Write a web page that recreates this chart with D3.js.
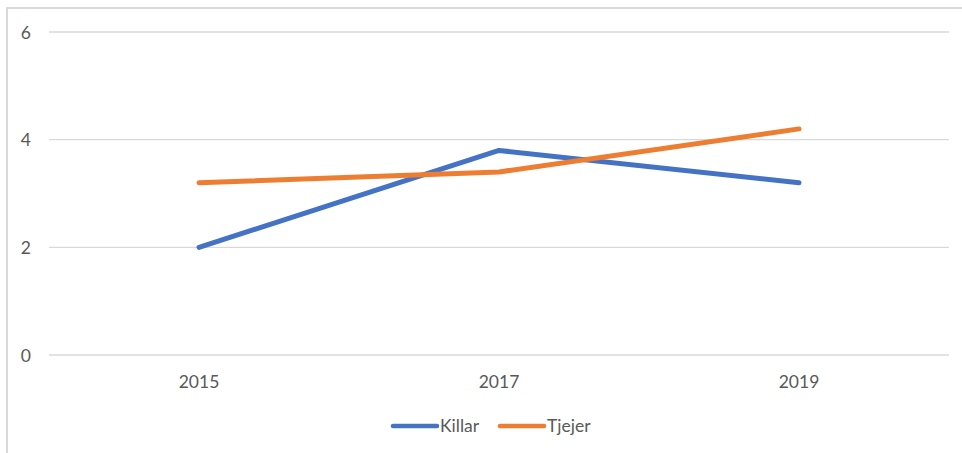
<!DOCTYPE html>
<html>
<head>
<meta charset="utf-8">
<script src="https://cdn.jsdelivr.net/npm/d3@7"></script>
<style>
  html, body { margin: 0; padding: 0; background: #fff; }
  svg { display: block; }
</style>
</head>
<body>
<svg id="chart" width="962" height="453"></svg>
<script>
// Survey years and the two series
const years = ["2015", "2017", "2019"];
const killar = [2.0, 3.8, 3.2];
const tjejer = [3.2, 3.4, 4.2];
const yTicks = [0, 2, 4, 6];
const seriesNames = ["Killar", "Tjejer"];
const seriesColors = ["#4472C4", "#ED7D31"];

const series = [
  { name: seriesNames[0], color: seriesColors[0], values: killar },
  { name: seriesNames[1], color: seriesColors[1], values: tjejer }
];

const svg = d3.select("#chart");
const W = 962, H = 453;
const font = "Lato, 'Open Sans', sans-serif";
const fontSize = 17.5;

// Chart-area frame (left and top edges visible)
svg.append("path")
  .attr("d", `M7,${H} V8 H${W}`)
  .attr("fill", "none")
  .attr("stroke", "#d9d9d9")
  .attr("stroke-width", 2);

const margin = { left: 49 };

const x = d3.scaleBand().domain(years).range([margin.left, margin.left + 900]);
const y = d3.scaleLinear().domain([0, 6]).range([355, 32]);

// Gridlines
svg.append("g")
  .selectAll("line")
  .data(yTicks)
  .join("line")
  .attr("x1", margin.left)
  .attr("x2", margin.left + 900)
  .attr("y1", d => y(d))
  .attr("y2", d => y(d))
  .attr("stroke", "#d9d9d9")
  .attr("stroke-width", 1.3);

// Y axis labels
const yAxis = d3.axisLeft(y).tickValues(yTicks).tickSize(0).tickPadding(0).tickFormat(d3.format("d"));
const gy = svg.append("g").attr("transform", "translate(31,0)").call(yAxis);
gy.select(".domain").remove();
gy.selectAll("text")
  .attr("font-family", font)
  .attr("font-size", fontSize)
  .attr("fill", "#595959")
  .attr("text-anchor", "end")
  .attr("dy", "0.35em");

// X axis labels
const xAxis = d3.axisBottom(x).tickSize(0).tickPadding(0);
const gx = svg.append("g").attr("transform", "translate(0,382)").call(xAxis);
gx.select(".domain").remove();
gx.selectAll("text")
  .attr("font-family", font)
  .attr("font-size", fontSize)
  .attr("fill", "#595959")
  .attr("dy", "0.35em");

// Lines
const line = d3.line()
  .x((d, i) => x(years[i]) + x.bandwidth() / 2)
  .y(d => y(d));

svg.append("g")
  .selectAll("path")
  .data(series)
  .join("path")
  .attr("d", d => line(d.values))
  .attr("fill", "none")
  .attr("stroke", d => d.color)
  .attr("stroke-width", 5)
  .attr("stroke-linecap", "round")
  .attr("stroke-linejoin", "round");

// Legend
const legendItems = [
  { name: seriesNames[0], color: seriesColors[0], x: 393 },
  { name: seriesNames[1], color: seriesColors[1], x: 500 }
];
const lg = svg.append("g");
legendItems.forEach(item => {
  lg.append("line")
    .attr("x1", item.x).attr("x2", item.x + 44)
    .attr("y1", 426).attr("y2", 426)
    .attr("stroke", item.color)
    .attr("stroke-width", 4.5)
    .attr("stroke-linecap", "round");
  lg.append("text")
    .attr("x", item.x + 47)
    .attr("y", 426)
    .attr("dy", "0.35em")
    .attr("font-family", font)
    .attr("font-size", fontSize)
    .attr("fill", "#595959")
    .text(item.name);
});
</script>
</body>
</html>
